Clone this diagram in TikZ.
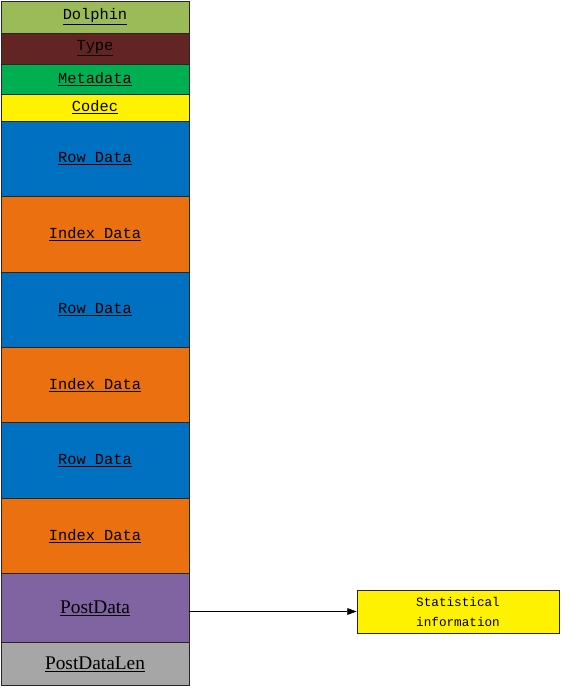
\documentclass[tikz,border=0pt]{standalone}
\usepackage{fontspec}
\setmainfont{Liberation Serif}
\setmonofont{Liberation Mono}
\definecolor{olivegreen}{RGB}{155,187,89}
\definecolor{maroon}{RGB}{99,37,35}
\definecolor{metagreen}{RGB}{0,176,80}
\definecolor{rowblue}{RGB}{0,112,192}
\definecolor{idxorange}{RGB}{235,112,15}
\definecolor{postpurple}{RGB}{128,100,162}
\definecolor{lengray}{RGB}{166,166,166}
\usetikzlibrary{arrows.meta,positioning}

\begin{document}
\begin{tikzpicture}[x=0.75pt,y=-0.75pt,node distance=0pt,
  blk/.style={draw=black!85,line width=0.6pt,minimum width=141pt,inner sep=0pt,outer sep=0pt,
              font=\ttfamily\fontsize{11.5}{13}\selectfont},
  rowblk/.style={blk,fill=rowblue,minimum height=56.6pt},
  idxblk/.style={blk,fill=idxorange,minimum height=56.6pt}]
  \useasboundingbox (0,0) rectangle (560,688);
  \node[blk,fill=olivegreen,minimum height=24pt,anchor=north west] (dolphin) at (1,1) {\underline{Dolphin}};
  \node[blk,fill=maroon,minimum height=23.25pt,below=of dolphin] (type) {\underline{Type}};
  \node[blk,fill=metagreen,minimum height=22.5pt,below=of type] (meta) {\underline{Metadata}};
  \node[blk,fill=yellow,minimum height=20.25pt,below=of meta] (codec) {\underline{Codec}};
  \node[rowblk,below=of codec] (row1) {\underline{Row Data}};
  \node[idxblk,below=of row1] (idx1) {\underline{Index Data}};
  \node[rowblk,below=of idx1] (row2) {\underline{Row Data}};
  \node[idxblk,below=of row2] (idx2) {\underline{Index Data}};
  \node[rowblk,below=of idx2] (row3) {\underline{Row Data}};
  \node[idxblk,below=of row3] (idx3) {\underline{Index Data}};
  \node[blk,fill=postpurple,minimum height=51.75pt,below=of idx3,font=\rmfamily\fontsize{14.5}{16}\selectfont] (post) {\underline{PostData}};
  \node[blk,fill=lengray,minimum height=32.25pt,below=of post,font=\rmfamily\fontsize{14.5}{16}\selectfont] (postlen) {\underline{PostDataLen}};
  \node[draw=black!85,line width=0.6pt,fill=yellow,minimum width=151.5pt,minimum height=32.25pt,
        align=center,inner sep=0pt,font=\ttfamily\fontsize{9.5}{15}\selectfont] (stat) at (458,611.5) {Statistical\\information};
  \draw[-{Triangle[length=7pt,width=5pt]},line width=0.5pt] (post.east |- stat.west) -- (stat.west);
\end{tikzpicture}
\end{document}
